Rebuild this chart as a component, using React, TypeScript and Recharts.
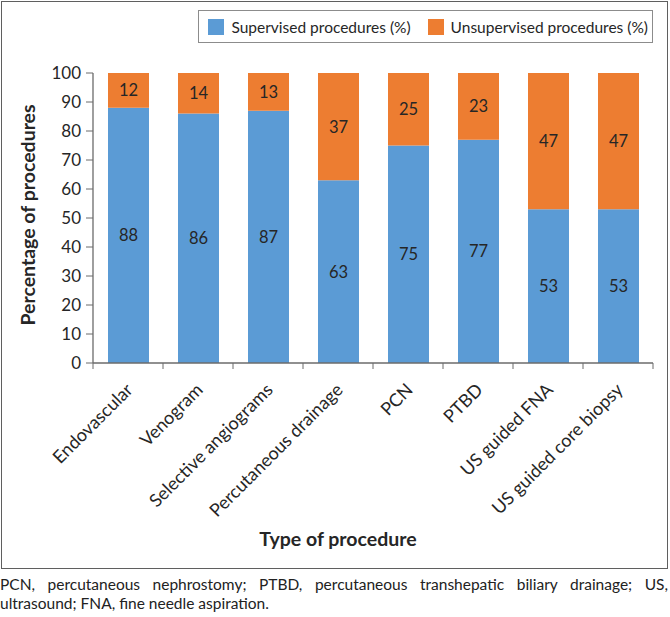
import { BarChart, Bar, XAxis, YAxis, Legend, LabelList, Label } from 'recharts';

// Share of each procedure done with / without supervision (%)
const procedures = [
  'Endovascular',
  'Venogram',
  'Selective angiograms',
  'Percutaneous drainage',
  'PCN',
  'PTBD',
  'US guided FNA',
  'US guided core biopsy',
];
const supervised = [88, 86, 87, 63, 75, 77, 53, 53];
const unsupervised = [12, 14, 13, 37, 25, 23, 47, 47];
const percentTicks = [0, 10, 20, 30, 40, 50, 60, 70, 80, 90, 100];

const rows = procedures.map((name, i) => ({
  name,
  supervised: supervised[i],
  unsupervised: unsupervised[i],
}));

const FONT = 'Lato, "Open Sans", sans-serif';
const INK = '#262626';
const AXIS = '#6b6b6b';
const BLUE = '#5b9bd5';
const ORANGE = '#ed7d31';

const CHART_W = 665;
const CHART_H = 566;
const MARGIN = { top: 71, right: 14, bottom: 25, left: 0 };
const Y_AXIS_W = 91;
const TICK_LEN = 6;
const TICK_GAP = 2;
// half of one category band, used to put tick marks on the band edges
const HALF_BAND = (CHART_W - MARGIN.left - MARGIN.right - Y_AXIS_W) / procedures.length / 2;

const ProcedureTick = ({ x, y, payload, index, visibleTicksCount }: any) => {
  const axisY = y - TICK_LEN - TICK_GAP;
  const last = index === visibleTicksCount - 1;
  return (
    <g>
      <line x1={x - HALF_BAND} x2={x - HALF_BAND} y1={axisY} y2={axisY + TICK_LEN} stroke={AXIS} />
      {last && (
        <line x1={x + HALF_BAND} x2={x + HALF_BAND} y1={axisY} y2={axisY + TICK_LEN} stroke={AXIS} />
      )}
      <g transform={`translate(${x + 6},${y + 20})`}>
        <text textAnchor="end" transform="rotate(-45)" fontSize={18} fill={INK} fontFamily={FONT}>
          {payload.value}
        </text>
      </g>
    </g>
  );
};

const LegendBox = ({ payload }: any) => (
  <div
    style={{
      display: 'flex',
      alignItems: 'center',
      height: 31,
      padding: '0 4px 0 9px',
      border: '1px solid #8c8c8c',
      background: '#fff',
      fontFamily: FONT,
      fontSize: 15.5,
      color: INK,
      whiteSpace: 'nowrap',
    }}
  >
    {(payload || []).map((p: any, i: number) => (
      <span key={p.value} style={{ display: 'flex', alignItems: 'center', marginLeft: i ? 17 : 0 }}>
        <span style={{ width: 16, height: 16, background: p.color, marginRight: 7 }} />
        {p.value}
      </span>
    ))}
  </div>
);

const yTitle = ({ viewBox }: any) => {
  const cx = 25.5;
  const cy = viewBox.y + viewBox.height / 2 - 3;
  return (
    <text
      x={cx}
      y={cy}
      transform={`rotate(-90 ${cx} ${cy})`}
      textAnchor="middle"
      dominantBaseline="central"
      fontSize={19.5}
      fontWeight={700}
      fill={INK}
      fontFamily={FONT}
    >
      Percentage of procedures
    </text>
  );
};

const xTitle = ({ viewBox }: any) => (
  <text
    x={viewBox.x + viewBox.width / 2 - 35}
    y={viewBox.y + 175}
    textAnchor="middle"
    dominantBaseline="central"
    fontSize={19.5}
    fontWeight={700}
    fill={INK}
    fontFamily={FONT}
  >
    Type of procedure
  </text>
);

export default function App() {
  return (
    <div style={{ position: 'absolute', left: 0, top: 0, width: 670, height: 617, background: '#fff' }}>
      <div
        style={{
          position: 'absolute',
          left: 1,
          top: 1,
          width: CHART_W,
          height: CHART_H,
          border: '1px solid #5f5f5f',
        }}
      >
        <BarChart width={CHART_W} height={CHART_H} data={rows} margin={MARGIN}>
          <XAxis
            dataKey="name"
            interval={0}
            height={180}
            tickLine={false}
            tickSize={TICK_LEN}
            tickMargin={TICK_GAP}
            axisLine={{ stroke: AXIS, strokeWidth: 1.3 }}
            tick={<ProcedureTick />}
          >
            <Label content={xTitle} />
          </XAxis>
          <YAxis
            width={Y_AXIS_W}
            domain={[0, 100]}
            ticks={percentTicks}
            interval={0}
            tickSize={7}
            tickMargin={5}
            axisLine={{ stroke: AXIS, strokeWidth: 1.3 }}
            tickLine={{ stroke: AXIS }}
            tick={{ fontSize: 17, fill: INK, fontFamily: FONT }}
          >
            <Label content={yTitle} />
          </YAxis>
          <Legend
            layout="horizontal"
            align="center"
            verticalAlign="middle"
            content={<LegendBox />}
            wrapperStyle={{ top: 8, right: 14, left: 'auto', width: 'auto' }}
          />
          <Bar
            dataKey="supervised"
            name="Supervised procedures (%)"
            stackId="p"
            fill={BLUE}
            barSize={41}
            isAnimationActive={false}
          >
            <LabelList dataKey="supervised" position="center" fill={INK} fontSize={16.5} fontFamily={FONT} />
          </Bar>
          <Bar
            dataKey="unsupervised"
            name="Unsupervised procedures (%)"
            stackId="p"
            fill={ORANGE}
            barSize={41}
            isAnimationActive={false}
          >
            <LabelList dataKey="unsupervised" position="center" fill={INK} fontSize={16.5} fontFamily={FONT} />
          </Bar>
        </BarChart>
      </div>
      <div
        style={{
          position: 'absolute',
          left: 0,
          top: 575,
          width: 668,
          fontFamily: FONT,
          fontSize: 15.5,
          lineHeight: '19px',
          color: '#222',
        }}
      >
        <div style={{ textAlign: 'justify', textAlignLast: 'justify', whiteSpace: 'nowrap' }}>
          PCN, percutaneous nephrostomy; PTBD, percutaneous transhepatic biliary drainage; US,
        </div>
        <div>ultrasound; FNA, fine needle aspiration.</div>
      </div>
    </div>
  );
}
